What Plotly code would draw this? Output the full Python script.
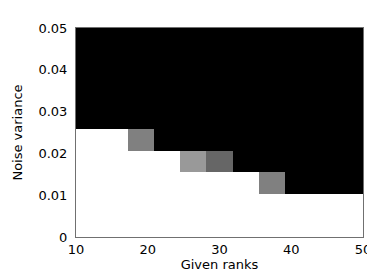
import numpy as np
import plotly.graph_objects as go

# Given ranks: 11 columns spanning 10..50
rank_edges = list(np.linspace(10, 50, 12))
# Noise variance rows (edges)
noise_edges = [0, 0.00515, 0.0103, 0.01545, 0.0206, 0.02575, 0.0309, 0.03605, 0.0412, 0.04635, 0.05]

# Success fraction (1 = white, 0 = black), rows bottom -> top
row0 = [1, 1, 1, 1, 1, 1, 1, 1, 1, 1, 1]
row1 = [1, 1, 1, 1, 1, 1, 1, 1, 1, 1, 1]
row2 = [1, 1, 1, 1, 1, 1, 1, 0.5, 0, 0, 0]
row3 = [1, 1, 1, 1, 0.6, 0.4, 0, 0, 0, 0, 0]
row4 = [1, 1, 0.5, 0, 0, 0, 0, 0, 0, 0, 0]
row5 = [0] * 11
row6 = [0] * 11
row7 = [0] * 11
row8 = [0] * 11
row9 = [0] * 11
z = [row0, row1, row2, row3, row4, row5, row6, row7, row8, row9]

x_ticks = [10, 20, 30, 40, 50]
y_ticks = [0, 0.01, 0.02, 0.03, 0.04, 0.05]
y_labels = ["0", "0.01", "0.02", "0.03", "0.04", "0.05"]

fig = go.Figure(go.Heatmap(
    x=rank_edges, y=noise_edges, z=z,
    colorscale=[[0, "#000000"], [1, "#ffffff"]], zmin=0, zmax=1,
    showscale=False, hoverinfo="skip",
))

font = dict(family="DejaVu Sans, sans-serif", size=13, color="#000000")
fig.update_layout(
    width=375, height=276,
    margin=dict(l=68, r=14, t=20, b=47),
    paper_bgcolor="white", plot_bgcolor="white",
    font=font,
)
fig.update_xaxes(
    range=[10, 50], tickvals=x_ticks, ticktext=[str(v) for v in x_ticks],
    showgrid=False, zeroline=False, showline=True, linecolor="#707070", linewidth=1, mirror=True,
    ticks="", ticklabelstandoff=0, automargin=True,
    title=dict(text="Given ranks", standoff=4, font=font),
)
fig.update_yaxes(
    range=[0, 0.05], tickvals=y_ticks, ticktext=y_labels,
    showgrid=False, zeroline=False, showline=True, linecolor="#707070", linewidth=1, mirror=True,
    ticks="", ticklabelstandoff=5, automargin=False,
    title=dict(text="Noise variance", standoff=12, font=font),
)

fig.write_html("out.html")
